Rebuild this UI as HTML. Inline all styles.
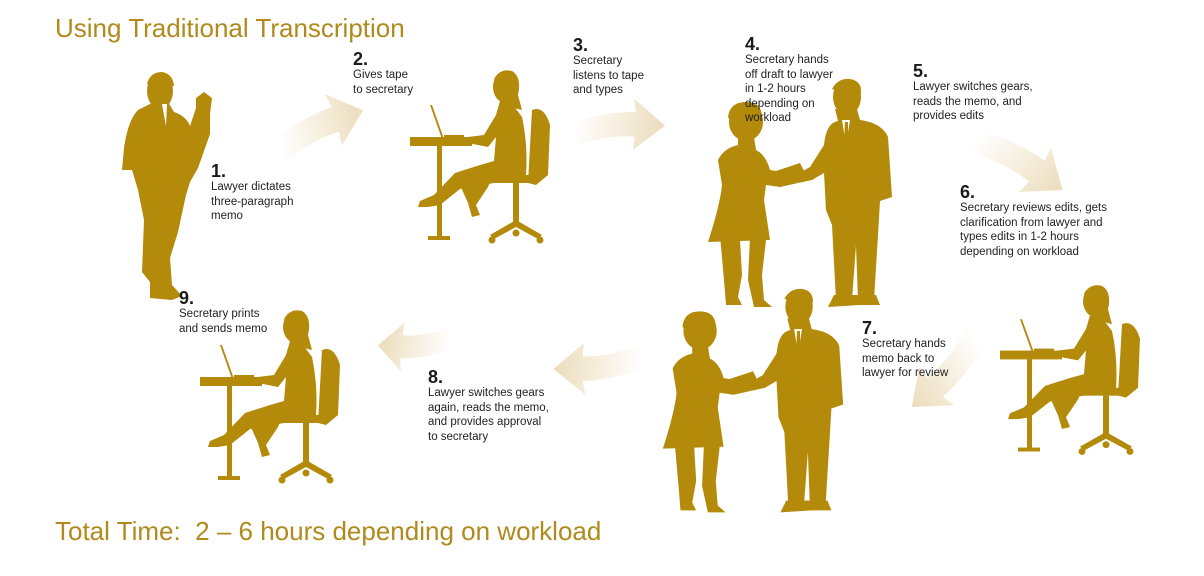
<!DOCTYPE html>
<html><head><meta charset="utf-8"><style>
body{margin:0;background:#fff;}
.w{position:relative;width:1204px;height:576px;overflow:hidden;font-family:"Liberation Sans",sans-serif;}
.t{position:absolute;color:#b08a1c;font-size:26px;}
.l{position:absolute;font-size:11.5px;line-height:14.5px;color:#222;}
.l b{display:block;font-size:18px;line-height:18px;font-weight:900;color:#1a1a1a;}
svg{position:absolute;left:0;top:0;}
</style></head><body><div class="w">
<svg width="1204" height="576" viewBox="0 0 1204 576">
<defs>
<linearGradient id="gr" x1="0" x2="1" y1="0" y2="0"><stop offset="0" stop-color="#eddcbb" stop-opacity="0"/><stop offset="1" stop-color="#ecdcbc"/></linearGradient>
<g id="arr"><path d="M0,22 Q30,8 58,4 L54,-10 L88,14 L60,44 L60,30 Q30,32 0,50 Z" fill="url(#gr)"/></g>
<g id="hs" fill="#b38a0a">
<ellipse cx="46" cy="47" rx="17" ry="19"/>
<path d="M28,42 Q30,26 48,27 Q64,28 62,48 L56,58 L40,62 Z"/>
<path d="M38,62 L54,62 L56,75 Q66,80 70,95 L90,98 L98,108 L80,112 L66,110 L64,125 L70,165 L8,167 Q20,130 22,110 L18,85 Q24,73 38,70 Z"/>
<path d="M20,160 L40,165 L42,200 L38,222 L42,230 L26,230 L24,205 Z"/>
<path d="M50,162 L66,165 L62,200 L64,225 L72,232 L54,232 L48,205 Z"/>
<path d="M70,98 L100,88 L108,104 L80,112 Z"/>
<ellipse cx="147" cy="22" rx="14" ry="18"/>
<path d="M132,14 Q138,3 150,4 Q162,6 161,18 L152,20 Z"/>
<path d="M135,34 L157,34 L160,45 Q182,48 188,62 L192,122 L180,126 L178,160 L174,225 L158,225 L156,170 L152,225 L136,225 L132,150 L126,135 L124,98 L112,105 L98,108 L96,100 L110,92 L124,70 Q126,48 138,46 Z"/>
<path d="M134,220 L158,220 L160,230 L128,232 Z"/>
<path d="M154,220 L176,220 L180,230 L150,230 Z"/>
<path d="M142,45 L150,45 L146,70 Z" fill="#fff"/>
<path d="M145,47 L148,47 L148,66 L146,70 L144,66 Z"/>
</g>
<g id="sw" fill="#b38a0a">
<rect x="0" y="72" width="62" height="9"/>
<rect x="27" y="80" width="5" height="95"/>
<rect x="18" y="171" width="22" height="4"/>
<path d="M20,40 L22,40 L34,74 L32,74 Z"/>
<rect x="34" y="70" width="20" height="4"/>
<ellipse cx="96" cy="22" rx="13" ry="16"/>
<path d="M84,14 Q90,3 102,6 Q112,12 108,30 L112,45 L100,42 Z"/>
<path d="M90,36 L100,36 L112,52 Q118,80 116,110 L100,112 L84,118 L50,124 L30,140 L18,142 L8,142 L10,136 L24,130 L45,108 L70,100 L84,96 L86,72 L78,82 L58,78 L58,72 L74,70 L86,50 Z"/>
<path d="M50,120 L82,112 L78,122 L66,140 L70,150 L62,152 L58,138 Z"/>
<path d="M122,45 Q134,40 140,60 L138,110 L126,120 L118,118 Z"/>
<rect x="84" y="110" width="44" height="8"/>
<rect x="103" y="118" width="6" height="40"/>
<path d="M80,170 L106,155 L132,170 L128,174 L106,162 L84,174 Z"/>
<circle cx="82" cy="175" r="3.5"/><circle cx="130" cy="175" r="3.5"/><circle cx="106" cy="168" r="3.5"/>
</g>
</defs>
<g fill="#b38a0a">
<ellipse cx="160" cy="91" rx="13" ry="18"/>
<path d="M147,84 Q150,72 162,72 Q173,74 174,86 L160,86 Z"/>
<path d="M150,104 L168,102 L174,112 Q186,116 190,126 L196,108 L196,98 L204,92 L212,98 L210,114 L210,134 L198,168 L190,182 L186,195 L178,232 L170,258 L172,285 L182,296 L172,300 L150,298 L150,282 L142,272 L144,220 L138,190 L132,170 L122,170 L124,148 Q128,120 138,110 Z"/>
<path d="M162,104 L167,104 L166,126 Z" fill="#fff"/>
</g>
<use href="#arr" transform="translate(274,115) rotate(-12)"/>
<use href="#sw" transform="translate(410,65)"/>
<use href="#arr" transform="translate(578,100) rotate(8) scale(1.02,0.95)"/>
<use href="#hs" transform="translate(700,75)"/>
<use href="#arr" transform="translate(1000,115) rotate(42) scale(1.1,1)"/>
<use href="#sw" transform="translate(1000,280) scale(1,0.98)"/>
<use href="#arr" transform="translate(995,365) rotate(145) scale(1.05,0.95)"/>
<use href="#hs" transform="translate(655,285) scale(0.98,0.98)"/>
<use href="#arr" transform="translate(640,390) rotate(185) scale(1,0.95)"/>
<use href="#arr" transform="translate(445,370) rotate(190) scale(0.8,0.9)"/>
<use href="#sw" transform="translate(200,305)"/>
</svg>
<div class="t" style="left:55px;top:13px">Using Traditional Transcription</div>
<div class="t" style="left:55px;top:516px">Total Time:&nbsp; 2 – 6 hours depending on workload</div>
<div class="l" style="left:211px;top:162px"><b>1.</b>Lawyer dictates<br>three-paragraph<br>memo</div>
<div class="l" style="left:353px;top:50px"><b>2.</b>Gives tape<br>to secretary</div>
<div class="l" style="left:573px;top:36px"><b>3.</b>Secretary<br>listens to tape<br>and types</div>
<div class="l" style="left:745px;top:35px"><b>4.</b>Secretary hands<br>off draft to lawyer<br>in 1-2 hours<br>depending on<br>workload</div>
<div class="l" style="left:913px;top:62px"><b>5.</b>Lawyer switches gears,<br>reads the memo, and<br>provides edits</div>
<div class="l" style="left:960px;top:183px"><b>6.</b>Secretary reviews edits, gets<br>clarification from lawyer and<br>types edits in 1-2 hours<br>depending on workload</div>
<div class="l" style="left:862px;top:319px"><b>7.</b>Secretary hands<br>memo back to<br>lawyer for review</div>
<div class="l" style="left:428px;top:368px"><b>8.</b>Lawyer switches gears<br>again, reads the memo,<br>and provides approval<br>to secretary</div>
<div class="l" style="left:179px;top:289px"><b>9.</b>Secretary prints<br>and sends memo</div>
</div></body></html>
